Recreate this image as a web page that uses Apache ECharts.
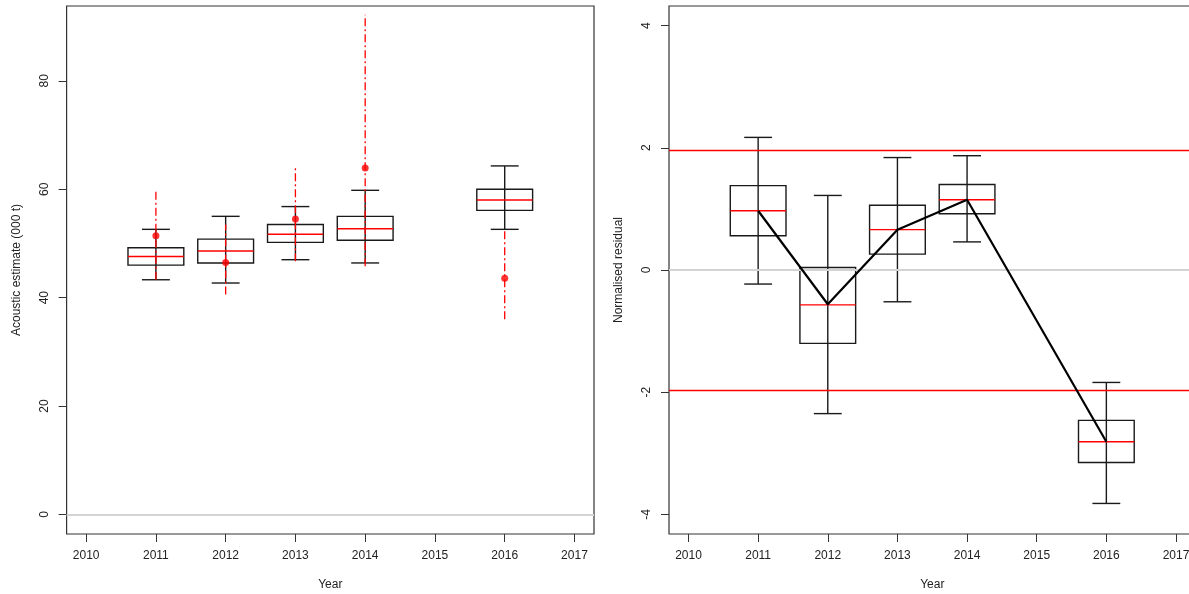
<!DOCTYPE html>
<html><head><meta charset="utf-8">
<script src="https://cdn.jsdelivr.net/npm/echarts@6/dist/echarts.min.js"></script>
<style>html,body{margin:0;padding:0;background:#fff}#c{width:1189px;height:594px}</style>
</head><body><div id="c"></div>
<script>
// ---- data ----
const years = [2011, 2012, 2013, 2014, 2016];
const xTicks = [2010, 2011, 2012, 2013, 2014, 2015, 2016, 2017];
// left panel: model boxplots of acoustic estimate (000 t)
const leftLow  = [43.3, 42.7, 47.0, 46.4, 52.6];
const leftQ1   = [46.0, 46.4, 50.2, 50.6, 56.1];
const leftMed  = [47.6, 48.6, 51.7, 52.7, 58.0];
const leftQ3   = [49.2, 50.8, 53.5, 55.0, 60.0];
const leftHigh = [52.6, 55.0, 56.8, 59.8, 64.3];
// observed acoustic estimates and their intervals
const obsVal   = [51.4, 46.5, 54.5, 63.9, 43.6];
const obsLow   = [43.3, 40.6, 46.7, 45.8, 36.0];
const obsHigh  = [59.9, 53.5, 63.9, 92.2, 52.5];
const leftYTicks = [0, 20, 40, 60, 80];
// right panel: normalised residual boxplots
const rLow  = [-0.23, -2.35, -0.52, 0.46, -3.82];
const rQ1   = [0.56, -1.20, 0.26, 0.92, -3.15];
const rMed  = [0.97, -0.57, 0.66, 1.15, -2.81];
const rQ3   = [1.38, 0.04, 1.06, 1.40, -2.46];
const rHigh = [2.17, 1.22, 1.84, 1.87, -1.84];
const residLine = [0.97, -0.56, 0.66, 1.15, -2.81];
const bounds = [-1.96, 1.96];
const rightYTicks = [-4, -2, 0, 2, 4];

// ---- chart ----
const FONT = 'Liberation Sans, Arial, sans-serif';
const chart = echarts.init(document.getElementById('c'), null, {renderer: 'canvas'});

function boxData(lo, q1, md, q3, hi) {
  return years.map((y, i) => [y, lo[i], q1[i], md[i], q3[i], hi[i]]);
}
function renderBox(params, api) {
  const x = api.value(0);
  const pLo = api.coord([x, api.value(1)]);
  const pQ1 = api.coord([x, api.value(2)]);
  const pMd = api.coord([x, api.value(3)]);
  const pQ3 = api.coord([x, api.value(4)]);
  const pHi = api.coord([x, api.value(5)]);
  const w = api.size([0.8, 0])[0];
  const c = w / 4;
  const cx = pMd[0];
  const st = {stroke: '#1a1a1a', lineWidth: 1.4, fill: null};
  return {
    type: 'group',
    children: [
      {type: 'line', shape: {x1: cx, y1: pHi[1], x2: cx, y2: pLo[1]}, style: st},
      {type: 'line', shape: {x1: cx - c, y1: pHi[1], x2: cx + c, y2: pHi[1]}, style: st},
      {type: 'line', shape: {x1: cx - c, y1: pLo[1], x2: cx + c, y2: pLo[1]}, style: st},
      {type: 'rect', shape: {x: cx - w / 2, y: pQ3[1], width: w, height: pQ1[1] - pQ3[1]}, style: {stroke: '#1a1a1a', lineWidth: 1.4, fill: 'rgba(0,0,0,0)'}},
      {type: 'line', shape: {x1: cx - w / 2, y1: pMd[1], x2: cx + w / 2, y2: pMd[1]}, style: {stroke: '#ff0000', lineWidth: 1.4}}
    ]
  };
}
function renderCI(params, api) {
  const x = api.value(0);
  const a = api.coord([x, api.value(1)]);
  const b = api.coord([x, api.value(2)]);
  return {type: 'line', shape: {x1: a[0], y1: a[1], x2: b[0], y2: b[1]},
    style: {stroke: '#ff0000', lineWidth: 1.3, lineDash: [8, 3, 2, 3]}};
}

const axisLabelStyle = {fontFamily: FONT, fontSize: 12, color: '#222'};
function xAxisCfg(gi) {
  return {
    type: 'value', gridIndex: gi, min: 2009.72, max: 2017.28,
    name: 'Year', nameLocation: 'middle', nameGap: 45,
    nameTextStyle: {fontFamily: FONT, fontSize: 12, color: '#222'},
    axisLine: {show: false, onZero: false},
    axisTick: {show: true, length: 8, customValues: xTicks, lineStyle: {color: '#333'}},
    axisLabel: Object.assign({margin: 16, customValues: xTicks, formatter: v => String(v)}, axisLabelStyle),
    splitLine: {show: false}
  };
}
function yAxisCfg(gi, min, max, ticks, name, gap) {
  return {
    type: 'value', gridIndex: gi, min: min, max: max,
    name: name, nameLocation: 'middle', nameGap: gap, nameRotate: 90,
    nameTextStyle: {fontFamily: FONT, fontSize: 12, color: '#222'},
    axisLine: {show: false, onZero: false},
    axisTick: {show: true, length: 8, customValues: ticks, lineStyle: {color: '#333'}},
    axisLabel: Object.assign({margin: 16, rotate: 90, customValues: ticks, formatter: v => String(v)}, axisLabelStyle),
    splitLine: {show: false}
  };
}

const option = {
  animation: false,
  backgroundColor: '#ffffff',
  grid: [
    {left: 66.6, width: 527.4, top: 6, bottom: 60, show: true, borderColor: '#333', borderWidth: 1.2,
      backgroundColor: 'transparent', containLabel: false, outerBoundsMode: 'none'},
    {left: 669, width: 526.5, top: 6, bottom: 60, show: true, borderColor: '#333', borderWidth: 1.2,
      backgroundColor: 'transparent', containLabel: false, outerBoundsMode: 'none'}
  ],
  xAxis: [xAxisCfg(0), xAxisCfg(1)],
  yAxis: [
    yAxisCfg(0, -3.6, 93.8, leftYTicks, 'Acoustic estimate (000 t)', 44),
    yAxisCfg(1, -4.32, 4.32, rightYTicks, 'Normalised residual', 44)
  ],
  series: [
    // left panel
    {type: 'line', xAxisIndex: 0, yAxisIndex: 0, data: [], silent: true, z: 1,
      markLine: {silent: true, symbol: 'none', label: {show: false},
        lineStyle: {color: '#d3d3d3', width: 2, type: 'solid'}, data: [{yAxis: 0}]}},
    {type: 'custom', xAxisIndex: 0, yAxisIndex: 0, z: 2, renderItem: renderBox,
      data: boxData(leftLow, leftQ1, leftMed, leftQ3, leftHigh)},
    {type: 'custom', xAxisIndex: 0, yAxisIndex: 0, z: 3, renderItem: renderCI,
      data: years.map((y, i) => [y, obsLow[i], obsHigh[i]])},
    {type: 'scatter', xAxisIndex: 0, yAxisIndex: 0, z: 4, symbol: 'circle', symbolSize: 7,
      itemStyle: {color: '#ff0000'}, data: years.map((y, i) => [y, obsVal[i]])},
    // right panel
    {type: 'line', xAxisIndex: 1, yAxisIndex: 1, data: [], silent: true, z: 1,
      markLine: {silent: true, symbol: 'none', label: {show: false}, data: [
        {yAxis: 0, lineStyle: {color: '#d3d3d3', width: 2, type: 'solid'}},
        {yAxis: bounds[0], lineStyle: {color: '#ff0000', width: 1.3, type: 'solid'}},
        {yAxis: bounds[1], lineStyle: {color: '#ff0000', width: 1.3, type: 'solid'}}
      ]}},
    {type: 'custom', xAxisIndex: 1, yAxisIndex: 1, z: 2, renderItem: renderBox,
      data: boxData(rLow, rQ1, rMed, rQ3, rHigh)},
    {type: 'line', xAxisIndex: 1, yAxisIndex: 1, z: 5, showSymbol: false, symbol: 'none',
      lineStyle: {color: '#000', width: 2.2}, data: years.map((y, i) => [y, residLine[i]])}
  ]
};
chart.setOption(option);
</script>
</body></html>
